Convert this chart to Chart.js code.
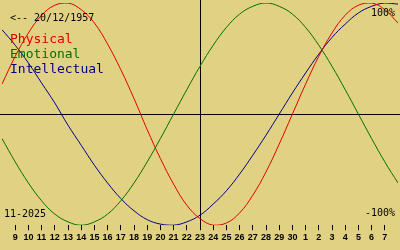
<!DOCTYPE html>
<html lang="en">
<head>
    <meta charset="UTF-8">
    <title>Biorhythm</title>
    <script src="https://cdn.jsdelivr.net/npm/chart.js"></script>
    <style>
        * { margin: 0; padding: 0; box-sizing: border-box; }
        html, body { width: 400px; height: 250px; background: #e1d283; overflow: hidden; }
        #bioChart { display: block; }
    </style>
</head>
<body>
    <canvas id="bioChart" width="400" height="250"></canvas>

    <script>
        // day labels under the tick marks (positions 1..29), ends unlabeled
        const dayLabels = ['', 9, 10, 11, 12, 13, 14, 15, 16, 17, 18, 19, 20, 21, 22, 23,
            24, 25, 26, 27, 28, 29, 30, 1, 2, 3, 4, 5, 6, 7, ''];
        const todayIndex = 15;

        // cycle values, one per day position (0..30)
        const physical = [0.27, 0.52, 0.73, 0.89, 0.98, 1.00, 0.94, 0.82, 0.63, 0.40,
            0.14, -0.14, -0.40, -0.63, -0.82, -0.94, -1.00, -0.98, -0.89, -0.73,
            -0.52, -0.27, 0.00, 0.27, 0.52, 0.73, 0.89, 0.98, 1.00, 0.94, 0.82];
        const emotional = [-0.22, -0.43, -0.62, -0.78, -0.90, -0.97, -1.00, -0.97, -0.90, -0.78,
            -0.62, -0.43, -0.22, 0.00, 0.22, 0.43, 0.62, 0.78, 0.90, 0.97,
            1.00, 0.97, 0.90, 0.78, 0.62, 0.43, 0.22, 0.00, -0.22, -0.43, -0.62];
        const intellectual = [0.76, 0.62, 0.46, 0.28, 0.10, -0.10, -0.28, -0.46, -0.62, -0.76,
            -0.87, -0.95, -0.99, -1.00, -0.97, -0.91, -0.81, -0.69, -0.54, -0.37,
            -0.19, 0.00, 0.19, 0.37, 0.54, 0.69, 0.81, 0.91, 0.97, 1.00, 0.99];

        const seriesNames = ['Physical', 'Emotional', 'Intellectual'];
        const seriesColors = ['#dd0000', '#007000', '#000088'];
        const birthText = '<-- 20/12/1957';
        const monthText = '11-2025';

        function toPoints(arr) {
            return arr.map((v, i) => ({ x: i, y: v }));
        }

        // background, axes cross and the texts
        const bioDecor = {
            id: 'bioDecor',
            beforeDraw(chart) {
                const c = chart.ctx;
                c.save();
                c.fillStyle = '#e1d283';
                c.fillRect(0, 0, chart.width, chart.height);
                c.restore();
            },
            beforeDatasetsDraw(chart) {
                const c = chart.ctx;
                const xs = chart.scales.x, ys = chart.scales.y;
                const y0 = Math.round(ys.getPixelForValue(0)) + 0.5;
                const xt = Math.round(xs.getPixelForValue(todayIndex)) + 0.5;
                c.save();
                c.strokeStyle = '#000';
                c.lineWidth = 1;
                c.beginPath();
                c.moveTo(0, y0);
                c.lineTo(chart.width, y0);
                c.moveTo(xt, 0);
                c.lineTo(xt, 230);
                c.stroke();
                c.restore();
            },
            afterDatasetsDraw(chart) {
                const c = chart.ctx;
                c.save();
                c.textBaseline = 'alphabetic';
                c.fillStyle = '#000';
                c.font = '10px "DejaVu Sans Mono"';
                c.textAlign = 'left';
                c.fillText(birthText, 10, 21);
                c.fillText(monthText, 4, 217);
                c.textAlign = 'right';
                c.fillText('100%', 395, 16);
                c.fillText('-100%', 395, 216);
                c.textAlign = 'left';
                c.font = '13px "DejaVu Sans Mono"';
                seriesNames.forEach((name, i) => {
                    c.fillStyle = seriesColors[i];
                    c.fillText(name, 10, 43 + i * 15);
                });
                c.restore();
            }
        };

        new Chart(document.getElementById('bioChart'), {
            type: 'line',
            data: {
                datasets: [physical, emotional, intellectual].map((arr, i) => ({
                    label: seriesNames[i],
                    data: toPoints(arr),
                    borderColor: seriesColors[i],
                    borderWidth: 1,
                    pointRadius: 0,
                    tension: 0.4,
                    fill: false
                }))
            },
            options: {
                responsive: false,
                animation: false,
                layout: { padding: { top: 3, bottom: 5, left: 0, right: 0 } },
                plugins: {
                    legend: { display: false },
                    tooltip: { enabled: false }
                },
                scales: {
                    x: {
                        type: 'linear',
                        min: 0,
                        max: 30,
                        border: { display: false },
                        grid: {
                            drawOnChartArea: false,
                            drawTicks: true,
                            tickLength: 5,
                            color: (ctx) => (ctx.tick && dayLabels[ctx.tick.value] !== '') ? '#000' : 'rgba(0,0,0,0)'
                        },
                        ticks: {
                            stepSize: 1,
                            autoSkip: false,
                            maxRotation: 0,
                            padding: 2,
                            color: '#000',
                            font: { family: '"Liberation Sans"', size: 9, weight: 'bold' },
                            callback: (v) => dayLabels[v]
                        }
                    },
                    y: {
                        display: false,
                        min: -1,
                        max: 1
                    }
                }
            },
            plugins: [bioDecor]
        });
    </script>
</body>
</html>
